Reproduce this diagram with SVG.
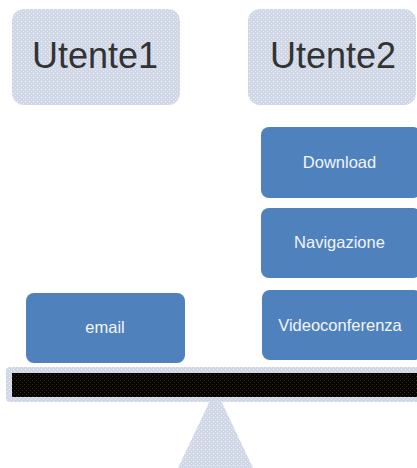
<svg xmlns="http://www.w3.org/2000/svg" width="417" height="468" viewBox="0 0 417 468">
<defs>
<pattern id="dots" width="4" height="4" patternUnits="userSpaceOnUse">
<rect width="4" height="4" fill="#d0d8e8"/>
<rect x="1" y="1" width="1" height="1" fill="#f2f5fa"/>
<rect x="3" y="3" width="1" height="1" fill="#e6ebf3"/>
</pattern>
<pattern id="dark" width="4" height="4" patternUnits="userSpaceOnUse">
<rect width="4" height="4" fill="#050403"/>
<rect x="0" y="0" width="1" height="1" fill="#3a2e16"/>
<rect x="2" y="2" width="1" height="1" fill="#3a2e16"/>
</pattern>
<style>
.user{fill:url(#dots)}
.ut{font-family:"Liberation Sans",Arial,sans-serif;font-size:36px;fill:#333333;text-anchor:middle}
.task{fill:#4f81bd}
.tt{font-family:"Liberation Sans",Arial,sans-serif;font-size:16.5px;fill:#f2f5fa;text-anchor:middle}
</style>
</defs>
<g id="fulcrum">
<polygon points="215.5,389 253,468 178,468" fill="url(#dots)"/>
</g>
<g id="beam">
<rect x="6" y="367" width="420" height="35" rx="4" fill="url(#dots)"/>
<rect x="12" y="373" width="410" height="24" fill="url(#dark)"/>
</g>
<g id="utente1">
<rect class="user" x="12" y="9" width="168" height="96" rx="12"/>
<text class="ut" x="95" y="68">Utente1</text>
</g>
<g id="utente2">
<rect class="user" x="248" y="9" width="168" height="96" rx="12"/>
<text class="ut" x="333" y="68">Utente2</text>
</g>
<g id="download">
<rect class="task" x="261" y="127" width="160" height="71" rx="8"/>
<text class="tt" x="339.5" y="168">Download</text>
</g>
<g id="navigazione">
<rect class="task" x="261" y="208" width="160" height="70" rx="8"/>
<text class="tt" x="339.5" y="248">Navigazione</text>
</g>
<g id="videoconferenza">
<rect class="task" x="262" y="290" width="160" height="70" rx="8"/>
<text class="tt" x="340" y="331">Videoconferenza</text>
</g>
<g id="email">
<rect class="task" x="26" y="293" width="159" height="70" rx="8"/>
<text class="tt" x="105" y="333">email</text>
</g>
<g id="connectors"/>
</svg>
